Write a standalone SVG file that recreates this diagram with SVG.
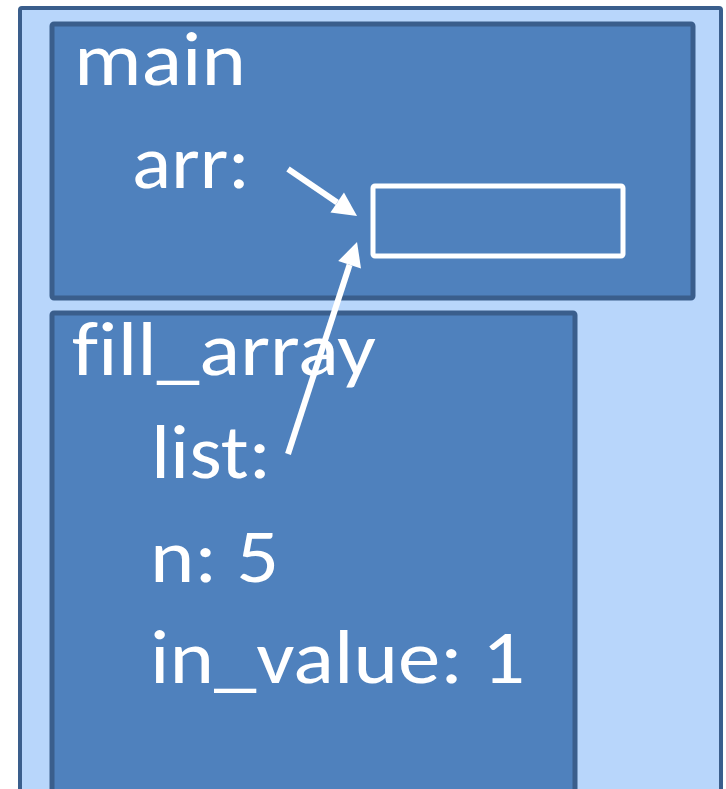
<svg xmlns="http://www.w3.org/2000/svg" width="726" height="789" viewBox="0 0 726 789">
  <style>
    .stack { fill: #b8d6fb; stroke: #3a5e8c; stroke-width: 4; }
    .frame { fill: #4f81bd; stroke: #3a5e8c; stroke-width: 5; }
    .cell { fill: none; stroke: #ffffff; stroke-width: 5; }
    .lbl { fill: #ffffff; font-family: Carlito, Lato, "Open Sans", sans-serif; font-size: 77px; font-variant-ligatures: none; font-feature-settings: "liga" 0; }
    .ptr { fill: none; stroke: #ffffff; stroke-width: 6; marker-end: url(#head); }
  </style>
  <defs>
    <marker id="head" markerUnits="userSpaceOnUse" markerWidth="26" markerHeight="24" refX="0" refY="12" orient="auto" overflow="visible">
      <path d="M0,0 L24,12 L0,24 z" fill="#ffffff"/>
    </marker>
  </defs>

  <!-- call stack background -->
  <rect class="stack" x="20" y="8" width="701" height="800" rx="2"/>

  <!-- frame: main -->
  <g id="main">
    <rect class="frame" x="52" y="24" width="641" height="274" rx="2"/>
    <text class="lbl" x="74" y="85" textLength="172" lengthAdjust="spacingAndGlyphs">main</text>
    <text class="lbl" x="132" y="188" textLength="118" lengthAdjust="spacingAndGlyphs">arr:</text>
  </g>

  <!-- array storage -->
  <g id="array">
    <rect class="cell" x="373" y="186" width="250" height="70" rx="2"/>
  </g>

  <!-- frame: fill_array -->
  <g id="fill_array">
    <rect class="frame" x="52" y="313" width="523" height="500" rx="2"/>
    <text class="lbl" x="72" y="375" textLength="304" lengthAdjust="spacingAndGlyphs">fill_array</text>
    <text class="lbl" x="151" y="478" textLength="120" lengthAdjust="spacingAndGlyphs">list:</text>
    <text class="lbl" x="150" y="582" textLength="129" lengthAdjust="spacingAndGlyphs">n: 5</text>
    <text class="lbl" x="150" y="683" textLength="375" lengthAdjust="spacingAndGlyphs">in_value: 1</text>
  </g>

  <!-- pointers into the array -->
  <g id="connectors">
    <path class="ptr" d="M288,169 L337.2,202.5"/>
    <path class="ptr" d="M288,454 L349.6,264.8"/>
  </g>
</svg>
